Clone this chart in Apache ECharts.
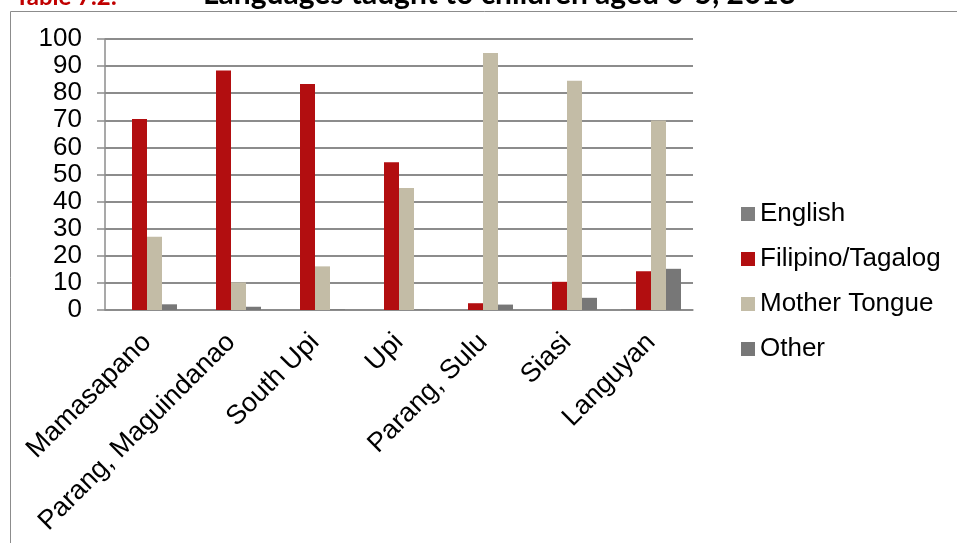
<!DOCTYPE html>
<html>
<head>
<meta charset="utf-8">
<title>Languages taught to children</title>
<script src="https://cdn.jsdelivr.net/npm/echarts@6/dist/echarts.min.js"></script>
<style>
  html, body { margin: 0; padding: 0; background: #fff; }
  #chart { width: 957px; height: 543px; }
</style>
</head>
<body>
<div id="chart"></div>
<script>
// data (percent)
const places = ['Mamasapano', 'Parang, Maguindanao', 'South Upi', 'Upi', 'Parang, Sulu', 'Siasi', 'Languyan']
const english = [0, 0, 0, 0, 0, 0, 0.3]
const filipino = [70.5, 88.4, 83.4, 54.5, 2.5, 10.4, 14.3]
const motherTongue = [27, 10.2, 16.1, 45, 94.8, 84.6, 69.9]
const other = [2.1, 1.2, 0.2, 0.1, 2, 4.5, 15.2]
const yTicks = { min: 0, max: 100, step: 10 }

const font = '"Liberation Sans", Arial, sans-serif'
const axisGray = '#8c8c8c'

const chart = echarts.init(document.getElementById('chart'))

chart.setOption({
  animation: false,
  textStyle: { fontFamily: font },
  graphic: [
    // outer frame of the figure
    {
      type: 'rect',
      shape: { x: 10.5, y: 11.5, width: 1000, height: 600 },
      style: { fill: null, stroke: '#8c8c8c', lineWidth: 1 }
    },
    // title, cut at the top as in the source
    {
      type: 'text',
      left: 15,
      top: -15,
      style: { text: 'Table 7.2:', fill: '#c00000', font: 'bold 24px Lato, "Open Sans", sans-serif' }
    },
    {
      type: 'text',
      left: 203,
      top: -21,
      style: { text: 'Languages taught to children aged 0-5, 2013', fill: '#000', font: 'bold 30px Lato, "Open Sans", sans-serif' }
    }
  ],
  grid: { left: 105, right: 264, top: 39, bottom: 233 },
  legend: {
    orient: 'vertical',
    left: 736,
    top: 196,
    itemWidth: 14,
    itemHeight: 14,
    itemGap: 19,
    icon: 'rect',
    textStyle: { fontSize: 26, lineHeight: 26, color: '#000', fontFamily: font },
    data: ['English', 'Filipino/Tagalog', 'Mother Tongue', 'Other']
  },
  xAxis: {
    type: 'category',
    data: places,
    axisLine: { lineStyle: { color: axisGray, width: 1.5 } },
    axisTick: { length: 8, lineStyle: { color: axisGray, width: 1.5 } },
    axisLabel: { rotate: 45, interval: 0, fontSize: 27, color: '#000', margin: 28 }
  },
  yAxis: {
    type: 'value',
    min: yTicks.min,
    max: yTicks.max,
    interval: yTicks.step,
    axisLine: { show: true, lineStyle: { color: axisGray, width: 1.5 } },
    axisTick: { show: true, length: 8, lineStyle: { color: axisGray, width: 1.5 } },
    axisLabel: { fontSize: 26, color: '#000', margin: 23 },
    splitLine: { lineStyle: { color: axisGray, width: 2 } }
  },
  series: [
    { name: 'English', type: 'bar', data: english, itemStyle: { color: '#7f7f7f' }, barGap: 0, barCategoryGap: '28.6%' },
    { name: 'Filipino/Tagalog', type: 'bar', data: filipino, itemStyle: { color: '#b20e10' } },
    { name: 'Mother Tongue', type: 'bar', data: motherTongue, itemStyle: { color: '#c3bca6' } },
    { name: 'Other', type: 'bar', data: other, itemStyle: { color: '#777777' } }
  ]
})
</script>
</body>
</html>
